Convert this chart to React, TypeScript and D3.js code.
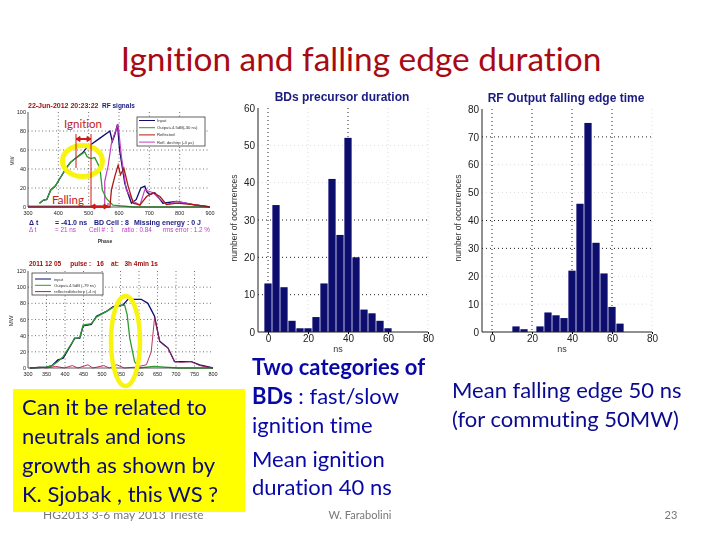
import React, { useEffect, useRef } from 'react';
import * as d3 from 'd3';

// slide text
const titleText = 'Ignition and falling edge duration';
const leftNote = ['Can it be related to', 'neutrals and ions', 'growth as shown by', 'K. Sjobak , this WS ?'];
const midBold = ['Two categories of', 'BDs', '', '', ''];
const midPlain = ['', ' : fast/slow', 'ignition time', 'Mean ignition', 'duration 40 ns'];
const rightNote = ['Mean falling edge 50 ns', '(for commuting 50MW)'];

// histogram: BDs precursor duration
const precursorBins = [0, 4, 8, 12, 16, 20, 24, 28, 32, 36, 40, 44, 48, 52, 56, 60];
const precursorCounts = [13, 34, 12, 3, 1, 1, 4, 13, 41, 26, 52, 20, 6, 5, 3, 1];
const precursorYTicks = [0, 10, 20, 30, 40, 50, 60];

// histogram: RF output falling edge time
const fallingBins = [12, 16, 24, 28, 32, 36, 40, 44, 48, 52, 56, 60, 64];
const fallingCounts = [2, 1, 2, 7, 6, 5, 22, 46, 75, 32, 21, 9, 3];
const fallingYTicks = [0, 10, 20, 30, 40, 50, 60, 70, 80];

const histXTicks = [0, 20, 40, 60, 80];

// top signal plot, [ns, MW]
const topInput = [[338, 4], [350, 7], [362, 8], [375, 18], [390, 22], [405, 30], [426, 41], [440, 47], [460, 52], [480, 57], [495, 63], [509, 66], [535, 72], [570, 80], [578, 69], [586, 76], [595, 87], [602, 60], [619, 25], [630, 14], [641, 4], [657, 8], [672, 20], [685, 22], [692, 16], [701, 13], [718, 15], [745, 4], [790, 6], [845, 2.5], [900, 0]];
const topOutput = [[338, 4], [350, 7], [362, 8], [375, 18], [390, 22], [405, 30], [426, 41], [440, 47], [460, 52], [487, 58], [495, 53], [507, 51], [520, 52], [537, 41], [545, 18], [558, 9], [580, 2], [647, 0], [900, 0]];
const topReflected = [[300, 0], [570, 0], [575, 18], [586, 32], [597, 44], [605, 34], [616, 41], [630, 22], [647, 4], [669, 2], [691, 11], [713, 15], [735, 11], [757, 2.5], [790, 4], [845, 2.5], [900, 0]];
const topDechirped = [[300, 1], [553, 1], [553, 27], [564, 43], [575, 67], [586, 78], [597, 87], [608, 53], [624, 18], [647, 6], [669, 2], [685, 18], [713, 15], [735, 8], [757, 2.5], [790, 6], [845, 2.5], [900, 0]];
const topLegend = ['Input', 'Output+4.5dB(-30 ns)', 'Reflected', 'Refl. dechirp (-4 µs)'];

// bottom signal plot, [ns, MW]
const lowInput = [[305, 0], [350, 1], [365, 3], [381, 10], [395, 12], [417, 29], [426, 37], [440, 37], [449, 52], [471, 54], [485, 64], [512, 70], [530, 76], [557, 78], [570, 85], [606, 85], [624, 80], [642, 64], [656, 33], [678, 25], [696, 8], [714, 8], [741, 8], [764, 4], [800, 0]];
const lowOutput = [[305, 0], [350, 1], [365, 3], [381, 8], [395, 14], [417, 30], [426, 36], [440, 38], [449, 53], [471, 55], [485, 63], [512, 70], [530, 75], [561, 78], [568, 66], [575, 37], [588, 8], [601, 0], [640, 2], [670, 1], [705, 0], [800, 0]];
const lowReflected = [[305, 0], [330, 1], [350, 0], [375, 2], [398, 0], [420, 3], [435, 0], [462, 4], [475, 0], [505, 3], [520, 0], [540, 4], [560, 0], [590, 1], [620, 4], [633, 20], [642, 62], [656, 33], [670, 27], [678, 25], [696, 8], [714, 7], [741, 8], [764, 3], [800, 0]];
const lowLegend = ['input', 'Output+4.5dB (-79 ns)', 'reflected/dechirp (-4 n)'];

// status lines under the top plot
const blueStatus = [[29, 'Δ t'], [55, '= -41.0 ns'], [94, 'BD Cell : 8'], [134, 'Missing energy : 0 J']];
const pinkStatus = [[29, 'Δ t'], [55, '= 21 ns'], [89, 'Cell # : 1'], [122, 'ratio : 0.84'], [163, 'rms error : 1.2 %']];

const navy = '#0a0a6e';
const slideFont = 'Lato, "Open Sans", sans-serif';
const plotFont = '"Liberation Sans", Arial, sans-serif';

type Pt = number[];

const drawHistogram = (
  svg: d3.Selection<SVGSVGElement, unknown, null, undefined>,
  box: { left: number; right: number; top: number; bottom: number },
  xTicks: number[], yMax: number, yTicks: number[],
  strongX: number[], strongY: number[],
  bins: number[], counts: number[], title: string, titleX: number,
) => {
  const x = d3.scaleLinear().domain([-5, 80]).range([box.left, box.right]);
  const y = d3.scaleLinear().domain([0, yMax]).range([box.bottom, box.top]);
  const g = svg.append('g').attr('font-family', plotFont).attr('filter', 'url(#soft)');

  // the scan lost most of the upper grid, so only some lines stay dark
  xTicks.forEach(t => {
    g.append('line').attr('x1', x(t)).attr('x2', x(t)).attr('y1', box.top).attr('y2', box.bottom)
      .attr('stroke', strongX.includes(t) ? '#222' : '#ddd').attr('stroke-dasharray', '1,3');
  });
  yTicks.slice(1, -1).forEach(t => {
    g.append('line').attr('x1', box.left).attr('x2', box.right).attr('y1', y(t)).attr('y2', y(t))
      .attr('stroke', strongY.includes(t) ? '#222' : '#ddd').attr('stroke-dasharray', '1,3');
  });

  g.selectAll('rect.bar').data(bins).join('rect').attr('class', 'bar')
    .attr('x', d => x(d) - 3.6).attr('width', 7.2)
    .attr('y', (_, i) => y(counts[i])).attr('height', (_, i) => box.bottom - y(counts[i]))
    .attr('fill', navy);

  g.append('path')
    .attr('d', `M${box.left},${box.top}V${box.bottom}H${box.right}`)
    .attr('fill', 'none').attr('stroke', '#222');

  const axisX = g.append('g').attr('transform', `translate(0,${box.bottom})`)
    .call(d3.axisBottom(x).tickValues(xTicks).tickSize(2).tickPadding(1).tickFormat(d3.format('d') as any));
  axisX.select('.domain').remove();
  axisX.selectAll('text').attr('font-size', 10).attr('fill', '#222');
  const axisY = g.append('g').attr('transform', `translate(${box.left},0)`)
    .call(d3.axisLeft(y).tickValues(yTicks).tickSize(0).tickFormat(d3.format('d') as any));
  axisY.select('.domain').remove();
  axisY.selectAll('text').attr('font-size', 10).attr('fill', '#222');

  g.append('text').attr('x', titleX).attr('y', box.top - 7).attr('text-anchor', 'middle')
    .attr('font-size', 12).attr('font-weight', 'bold').attr('fill', '#1a1a80').text(title);
  g.append('text').attr('x', (box.left + box.right) / 2 - 5).attr('y', box.bottom + 20).attr('text-anchor', 'middle')
    .attr('font-size', 9).attr('fill', '#333').text('ns');
  g.append('text').attr('transform', `translate(${box.left - 21},218) rotate(-90)`)
    .attr('text-anchor', 'middle').attr('font-size', 8.5).attr('fill', '#333').text('number of occurrences');
};

const App = () => {
  const svgRef = useRef<SVGSVGElement>(null);

  useEffect(() => {
    if (!svgRef.current) return;
    const svg = d3.select(svgRef.current);
    svg.selectAll('*').remove();

    const defs = svg.append('defs');
    defs.append('filter').attr('id', 'soft').append('feGaussianBlur').attr('stdDeviation', 0.35);

    svg.append('rect').attr('width', 720).attr('height', 540).attr('fill', '#fff');

    svg.append('text').attr('x', 361).attr('y', 71).attr('text-anchor', 'middle')
      .attr('font-family', slideFont).attr('font-size', 33.4).attr('fill', '#a80a14')
      .style('font-variant-ligatures', 'none').text(titleText);

    // top signal plot
    const topX = d3.scaleLinear().domain([300, 900]).range([28, 210]);
    const topY = d3.scaleLinear().domain([0, 100]).range([207, 112]);
    const top = svg.append('g').attr('font-family', plotFont).attr('filter', 'url(#soft)');
    top.append('text').attr('x', 28).attr('y', 108).attr('font-size', 7).attr('font-weight', 'bold').attr('fill', '#a01010').text('22-Jun-2012 20:23:22');
    top.append('text').attr('x', 102).attr('y', 108).attr('font-size', 6.5).attr('font-weight', 'bold').attr('fill', '#1a1a80').text('RF signals');
    d3.range(400, 900, 100).forEach(t => {
      top.append('line').attr('x1', topX(t)).attr('x2', topX(t)).attr('y1', 112).attr('y2', 207).attr('stroke', '#333').attr('stroke-dasharray', '1,2.5').attr('stroke-width', 0.7);
    });
    d3.range(20, 100, 20).forEach(t => {
      top.append('line').attr('x1', 28).attr('x2', 210).attr('y1', topY(t)).attr('y2', topY(t)).attr('stroke', '#333').attr('stroke-dasharray', '1,2.5').attr('stroke-width', 0.7);
    });
    const topLine = d3.line<Pt>().x(d => topX(d[0])).y(d => topY(d[1]));
    top.append('path').attr('d', topLine(topInput)).attr('fill', 'none').attr('stroke', navy).attr('stroke-width', 1.3);
    top.append('path').attr('d', topLine(topDechirped)).attr('fill', 'none').attr('stroke', '#c040c0').attr('stroke-width', 1.2);
    top.append('path').attr('d', topLine(topOutput)).attr('fill', 'none').attr('stroke', '#2f9a2f').attr('stroke-width', 1.3);
    top.append('path').attr('d', topLine(topReflected)).attr('fill', 'none').attr('stroke', '#b01818').attr('stroke-width', 1.3);
    top.append('path').attr('d', 'M28,112V207H210').attr('fill', 'none').attr('stroke', '#333').attr('stroke-width', 0.8);
    d3.range(300, 1000, 100).forEach(t => {
      top.append('text').attr('x', topX(t)).attr('y', 215).attr('text-anchor', 'middle').attr('font-size', 5.5).attr('fill', '#222').text(t);
    });
    d3.range(0, 120, 20).forEach(t => {
      top.append('text').attr('x', 26).attr('y', topY(t) + 2).attr('text-anchor', 'end').attr('font-size', 5.5).attr('fill', '#222').text(t);
    });
    top.append('text').attr('transform', 'translate(14,161) rotate(-90)').attr('text-anchor', 'middle').attr('font-size', 5).attr('fill', '#333').text('MW');
    blueStatus.forEach(d => {
      top.append('text').attr('x', d[0]).attr('y', 224.5).attr('font-size', 7).attr('font-weight', 'bold').attr('fill', '#1a1a80').text(d[1]);
    });
    pinkStatus.forEach(d => {
      top.append('text').attr('x', d[0]).attr('y', 232).attr('font-size', 6.3).attr('fill', '#c040c0').text(d[1]);
    });
    top.append('text').attr('x', 105).attr('y', 243).attr('text-anchor', 'middle').attr('font-size', 5).attr('font-weight', 'bold').attr('fill', '#333').text('Phase');

    const topBox = top.append('g');
    topBox.append('rect').attr('x', 137).attr('y', 117).attr('width', 68).attr('height', 29).attr('fill', '#fff').attr('stroke', '#222').attr('stroke-width', 0.7);
    topLegend.forEach((name, i) => {
      const ly = 120.5 + i * 7.2;
      const c = [navy, '#2f9a2f', '#b01818', '#c040c0'][i];
      topBox.append('line').attr('x1', 139).attr('x2', 155).attr('y1', ly).attr('y2', ly).attr('stroke', c);
      topBox.append('text').attr('x', 157).attr('y', ly + 1.5).attr('font-size', 4.2).attr('fill', '#333').text(name);
    });

    // yellow circle goes under the red markup
    svg.append('ellipse').attr('cx', 82.5).attr('cy', 161).attr('rx', 20).attr('ry', 15.5).attr('fill', 'none').attr('stroke', '#f8f410').attr('stroke-width', 5);
    const red = svg.append('g').attr('stroke', '#d01818').attr('fill', 'none');
    red.append('path').attr('d', 'M76,134V168M91,134V207M108,203V207');
    red.append('path').attr('d', 'M76,139H91M91,206.5H108').attr('stroke-width', 2);
    red.append('path').attr('d', 'M76,139l4,-2.5v5zM91,139l-4,-2.5v5zM91,206.5l4,-2.5v5zM108,206.5l-4,-2.5v5z').attr('fill', '#d01818');
    svg.append('text').attr('x', 83).attr('y', 128).attr('text-anchor', 'middle').attr('font-family', slideFont).attr('font-size', 11.5).attr('fill', '#c02020').style('font-variant-ligatures', 'none').text('Ignition');
    svg.append('text').attr('x', 68).attr('y', 204).attr('text-anchor', 'middle').attr('font-family', slideFont).attr('font-size', 11.5).attr('fill', '#c02020').text('Falling');

    // bottom signal plot
    const lowX = d3.scaleLinear().domain([300, 800]).range([28, 213]);
    const lowY = d3.scaleLinear().domain([0, 120]).range([368, 271]);
    const low = svg.append('g').attr('font-family', plotFont).attr('filter', 'url(#soft)');
    low.append('text').attr('x', 29).attr('y', 266).attr('font-size', 6.5).attr('font-weight', 'bold').attr('fill', '#a01010').style('white-space', 'pre').text('2011 12 05     pulse :   16    at:   3h 4min 1s');
    d3.range(350, 800, 50).forEach(t => {
      low.append('line').attr('x1', lowX(t)).attr('x2', lowX(t)).attr('y1', 271).attr('y2', 368).attr('stroke', '#333').attr('stroke-dasharray', '1,2.5').attr('stroke-width', 0.7);
    });
    d3.range(20, 120, 20).forEach(t => {
      low.append('line').attr('x1', 28).attr('x2', 213).attr('y1', lowY(t)).attr('y2', lowY(t)).attr('stroke', '#333').attr('stroke-dasharray', '1,2.5').attr('stroke-width', 0.7);
    });
    const lowLine = d3.line<Pt>().x(d => lowX(d[0])).y(d => lowY(d[1]));
    low.append('path').attr('d', lowLine(lowInput)).attr('fill', 'none').attr('stroke', navy).attr('stroke-width', 1.3);
    low.append('path').attr('d', lowLine(lowOutput)).attr('fill', 'none').attr('stroke', '#2f9a2f').attr('stroke-width', 1.3);
    low.append('path').attr('d', lowLine(lowReflected)).attr('fill', 'none').attr('stroke', '#b02050').attr('stroke-width', 0.9);
    low.append('path').attr('d', 'M28,271V368H213').attr('fill', 'none').attr('stroke', '#333').attr('stroke-width', 0.8);
    d3.range(300, 850, 50).forEach(t => {
      low.append('text').attr('x', lowX(t)).attr('y', 376).attr('text-anchor', 'middle').attr('font-size', 5.5).attr('fill', '#222').text(t);
    });
    d3.range(0, 140, 20).forEach(t => {
      low.append('text').attr('x', 26).attr('y', lowY(t) + 2).attr('text-anchor', 'end').attr('font-size', 5.5).attr('fill', '#222').text(t);
    });
    low.append('text').attr('transform', 'translate(13,321) rotate(-90)').attr('text-anchor', 'middle').attr('font-size', 6).attr('fill', '#333').text('MW');
    low.append('rect').attr('x', 32).attr('y', 273).attr('width', 71).attr('height', 22).attr('fill', '#fff').attr('stroke', '#222').attr('stroke-width', 0.7);
    lowLegend.forEach((name, i) => {
      const ly = 279 + i * 6.3;
      const c = [navy, '#2f9a2f', '#b02050'][i];
      low.append('line').attr('x1', 35).attr('x2', 51).attr('y1', ly).attr('y2', ly).attr('stroke', c);
      low.append('text').attr('x', 54).attr('y', ly + 1.5).attr('font-size', 4.2).attr('fill', '#333').text(name);
    });
    svg.append('ellipse').attr('cx', 125.5).attr('cy', 341).attr('rx', 14.5).attr('ry', 45).attr('fill', 'none').attr('stroke', '#f8f410').attr('stroke-width', 4.5);

    // histograms
    drawHistogram(svg, { left: 258, right: 428, top: 108, bottom: 332 }, histXTicks,
      60, precursorYTicks, [0, 40], [10, 20, 30], precursorBins, precursorCounts, 'BDs precursor duration', 342);
    drawHistogram(svg, { left: 482, right: 652, top: 109, bottom: 332 }, histXTicks,
      80, fallingYTicks, [0, 20, 40, 60], [30, 40, 70], fallingBins, fallingCounts, 'RF Output falling edge time', 566);

    // footer sits under the yellow box
    const foot = svg.append('g').attr('font-family', slideFont).attr('fill', '#777');
    foot.append('text').attr('x', 43).attr('y', 519).attr('font-size', 12).text('HG2013 3-6 may 2013 Trieste');
    foot.append('text').attr('x', 360).attr('y', 519).attr('text-anchor', 'middle').attr('font-size', 11).text('W. Farabolini');
    foot.append('text').attr('x', 671).attr('y', 519).attr('text-anchor', 'middle').attr('font-size', 11).text('23');

    svg.append('rect').attr('x', 13).attr('y', 389).attr('width', 232).attr('height', 123).attr('fill', '#ffff00');
    const notes = svg.append('g').attr('font-family', slideFont).attr('font-size', 22).style('font-variant-ligatures', 'none');
    leftNote.forEach((t, i) => notes.append('text').attr('x', 22).attr('y', 415 + i * 29).attr('fill', '#0a0a78').text(t));
    midPlain.forEach((t, i) => {
      const line = notes.append('text').attr('x', 252).attr('y', [375, 404, 433, 467, 495][i]).attr('fill', '#0808a8').style('white-space', 'pre');
      if (midBold[i]) line.append('tspan').attr('font-weight', 'bold').text(midBold[i]);
      if (t) line.append('tspan').text(t);
    });
    rightNote.forEach((t, i) => notes.append('text').attr('x', 452).attr('y', 398 + i * 29).attr('fill', '#0a0a90').text(t));
  }, []);

  return <svg ref={svgRef} width={720} height={540} style={{ position: 'absolute', left: 0, top: 0 }} />;
};

export default App;
